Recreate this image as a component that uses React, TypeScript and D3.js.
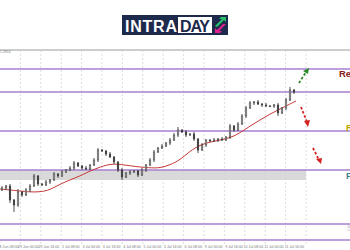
import React from "react";
import * as d3 from "d3";

const closes = [62,64,50,45,58,55,60,64,74,66, 65,68,70,76,74,78,80,82,87,84, 82,81,85,90,100,99,96,93,88,80, 73,77,78,79,75,80,85,90,98,102, 104,107,110,115,120,118,115,116,111,100, 105,110,109,110,111,110,113,124,120,126, 134,142,147,148,146,145,144,144,145,137, 142,150,160,158];
const opens = [60,62,64,50,45,58,55,60,64,74, 66,65,68,70,76,74,78,80,82,87, 84,82,81,85,90,100,99,96,93,88, 80,73,77,78,79,75,80,85,90,98, 102,104,107,110,115,120,118,115,116,111, 100,105,110,109,110,111,110,113,124,120, 126,134,142,147,148,146,145,144,144,145, 137,142,150,160];
const hiWick = [2,1,2,1,3,1,2,2,2,1, 1,2,1,2,1,2,1,2,2,1, 1,2,1,2,2,1,1,2,1,1, 2,1,2,1,1,2,1,2,2,1, 2,1,2,2,3,1,2,1,2,1, 2,1,1,2,1,2,1,2,1,2, 2,2,2,1,2,1,2,1,1,2, 1,2,3,1];
const loWick = [1,2,3,7,2,2,1,2,1,2, 1,1,2,1,2,1,1,1,2,1, 2,1,1,1,2,1,2,1,2,2, 3,1,2,1,2,1,2,1,2,1, 1,1,2,1,2,1,2,1,2,3, 1,2,1,1,2,1,1,2,2,1, 1,2,1,2,1,2,1,1,2,3, 1,2,1,2];

const maX = [0,20,30,40,50,60,70,80,90,100,113,130,150,160,170,180,190,200,210,220,230,240,250,260,270,280,290,296];
const maV = [61,59,58,58,60,66,70,74,79,83,87,84,82,82,85,90,99,105,108,110,112,117,124,130,136,141,146,149];

const levels = [181, 158, 119, 80, 26, 10];
const bandLevels = [80, 70];
const timeLabels = ["28 Jun 08:00","29 Jun 00:00","29 Jun 16:00","2 Jul 08:00","3 Jul 00:00","3 Jul 16:00","4 Jul 08:00","5 Jul 00:00","5 Jul 16:00","6 Jul 08:00","9 Jul 00:00","9 Jul 16:00","10 Jul 08:00","11 Jul 00:00","11 Jul 16:00"];
const gridIdx = d3.range(1, 16);

const W = 350, H = 250;

export default function App() {
  const y = d3.scaleLinear().domain([0, 200]).range([250, 50]);
  const xi = d3.scaleLinear().domain([0, closes.length - 1]).range([2, 294]);
  const xg = d3.scaleLinear().domain([0, 15]).range([0, 306]);
  const maLine = d3.line<number>().x((_, i) => maX[i]).y((d) => y(d)).curve(d3.curveBasis);

  return (
    <svg width={W} height={H} style={{ position: "absolute", left: 0, top: 0, background: "#fff" }} fontFamily="Arial, Liberation Sans, sans-serif">
      {/* logo */}
      <rect x={122} y={15} width={106} height={20} fill="#1d2a4b" />
      <text x={125} y={31.5} fill="#fff" fontSize={16} fontWeight="bold" textLength={52}>INTRA</text>
      <rect x={178} y={17} width={34} height={16} fill="#fff" />
      <text x={180} y={31.5} fill="#1d2a4b" fontSize={16} fontWeight="bold" textLength={30}>DAY</text>
      <polygon points="215,26 222,19 219,19 221,17 226,17 226,22 224,20 217,27" fill="#27c26b" />
      <polygon points="215,33 215,28 217,30 223,24 226,24 219,31 222,31 220,33" fill="#e0208f" />

      {/* top border */}
      <line x1={0} x2={W} y1={50} y2={50} stroke="#9a9a9a" strokeWidth={1} />
      <text x={0} y={52.5} fontSize={3.5} fill="#777">1.2914</text>

      {/* band */}
      <rect x={0} y={y(bandLevels[0])} width={xg(15)} height={y(bandLevels[1]) - y(bandLevels[0])} fill="#d9d9d9" />

      {/* grid */}
      {gridIdx.map((k) => (
        <line key={k} x1={xg(k)} x2={xg(k)} y1={50} y2={244} stroke="#cfcfcf" strokeWidth={0.7} strokeDasharray="2,2" />
      ))}

      {/* levels */}
      {levels.map((v, i) => (
        <line key={i} x1={0} x2={W} y1={y(v)} y2={y(v)} stroke="#a67fcf" strokeWidth={1.5} />
      ))}

      {/* MA */}
      <path d={maLine(maV) || ""} fill="none" stroke="#c83a3a" strokeWidth={1} />

      {/* candles */}
      {closes.map((c, i) => {
        const o = opens[i];
        const hi = Math.max(o, c) + hiWick[i];
        const lo = Math.min(o, c) - loWick[i];
        const x = xi(i);
        const top = y(Math.max(o, c));
        const h = Math.max(0.8, y(Math.min(o, c)) - top);
        return (
          <g key={i}>
            <line x1={x} x2={x} y1={y(hi)} y2={y(lo)} stroke="#3a3a3a" strokeWidth={0.9} />
            <rect x={x - 0.8} y={top} width={1.6} height={h} fill={c >= o ? "#bdbdbd" : "#3a3a3a"} stroke="#3a3a3a" strokeWidth={0.5} />
          </g>
        );
      })}

      {/* arrows */}
      <g strokeDasharray="2.5,2" strokeWidth={1.8} fill="none">
        <line x1={299} y1={83} x2={306} y2={72} stroke="#2a8a2a" />
        <line x1={301} y1={107} x2={307} y2={122} stroke="#d42020" />
        <line x1={313} y1={148} x2={319} y2={160} stroke="#d42020" />
      </g>
      <polygon points="309,68 303,71 308,74" fill="#2a8a2a" />
      <polygon points="308,127 304,121 310,120" fill="#d42020" />
      <polygon points="321,164 316,159 322,158" fill="#d42020" />

      {/* right labels */}
      <text x={339} y={76.5} fontSize={9.5} fontWeight="bold" fill="#8b1a1a">Resistance</text>
      <text x={346} y={130.5} fontSize={9.5} fontWeight="bold" fill="#b9a300">Resistance</text>
      <text x={346} y={178.5} fontSize={9.5} fontWeight="bold" fill="#3f7f8f">Pivot</text>
      <text x={347} y={231} fontSize={9} fontWeight="bold" fill="#c8d0d0">Support</text>

      {/* time labels */}
      {timeLabels.map((t, i) => (
        <text key={i} x={xg(i + 1) - 2} y={248} fontSize={3.6} fill="#777" textAnchor="end">{t}</text>
      ))}
    </svg>
  );
}
